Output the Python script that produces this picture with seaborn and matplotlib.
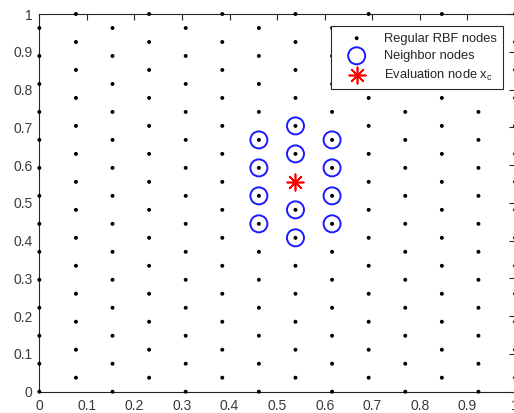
import numpy as np
import pandas as pd
import seaborn as sns
import matplotlib
matplotlib.use("Agg")
import matplotlib.pyplot as plt

# Node lattice: 14 columns spaced 1/13 apart; rows alternate by 1/27
col_x = [i / 13 for i in range(14)]
even_col_y = [k / 27 for k in range(0, 27, 2)]   # 0 .. 26/27
odd_col_y = [k / 27 for k in range(1, 28, 2)]    # 1/27 .. 1

# Neighbor nodes around the evaluation point
nbr_x = [6/13] * 4 + [7/13] * 4 + [8/13] * 4
nbr_y = [12/27, 14/27, 16/27, 18/27,
         11/27, 13/27, 17/27, 19/27,
         12/27, 14/27, 16/27, 18/27]

# Evaluation node x_c
eval_x = [7/13]
eval_y = [15/27]

tick_vals = [0, 0.1, 0.2, 0.3, 0.4, 0.5, 0.6, 0.7, 0.8, 0.9, 1]
tick_labels = ["0", "0.1", "0.2", "0.3", "0.4", "0.5", "0.6", "0.7", "0.8", "0.9", "1"]

rows = []
for i, x in enumerate(col_x):
    ys = even_col_y if i % 2 == 0 else odd_col_y
    for y in ys:
        rows.append((x, y))
nodes = pd.DataFrame(rows, columns=["x", "y"])
nbrs = pd.DataFrame({"x": nbr_x, "y": nbr_y})
evals = pd.DataFrame({"x": eval_x, "y": eval_y})

sns.set_style("white")
plt.rcParams["font.family"] = ["Liberation Sans", "DejaVu Sans"]

fig = plt.figure(figsize=(5.14, 4.13), dpi=100)
ax = fig.add_axes([0.0765, 0.0516, 0.9255, 0.9145])

sns.scatterplot(data=nodes, x="x", y="y", ax=ax, marker="o", s=8,
                color="black", edgecolor="none", label="Regular RBF nodes",
                clip_on=False, zorder=3)
sns.scatterplot(data=nbrs, x="x", y="y", ax=ax, marker="o", s=150,
                facecolor="none", edgecolor="#1a1aff", linewidth=1.4,
                label="Neighbor nodes", zorder=4)
sns.scatterplot(data=evals, x="x", y="y", ax=ax, marker=(8, 2, 0), s=140,
                color="red", edgecolor="red", linewidth=1.2,
                label="Evaluation node x$_\\mathregular{c}$", zorder=5)

ax.set_xlim(0, 1)
ax.set_ylim(0, 1)
ax.set_xticks(tick_vals)
ax.set_xticklabels(tick_labels)
ax.set_yticks(tick_vals)
ax.set_yticklabels(tick_labels)
ax.set_xlabel("")
ax.set_ylabel("")

ax.tick_params(direction="in", length=4, width=0.8, top=True, right=True,
               labelsize=10, labelcolor="#3a3a3a", color="#262626", pad=5)
for sp in ax.spines.values():
    sp.set_color("#262626")
    sp.set_linewidth(0.8)

leg = ax.legend(loc="upper right", bbox_to_anchor=(0.975, 0.968),
                fontsize=9.3, frameon=True, fancybox=False, framealpha=1,
                edgecolor="#262626", borderpad=0.5, labelspacing=0.43,
                handlelength=3.0, handletextpad=0.6, borderaxespad=0)
leg.get_frame().set_linewidth(0.8)
for t in leg.get_texts():
    t.set_color("#262626")

fig.savefig("out.png", dpi=100)
